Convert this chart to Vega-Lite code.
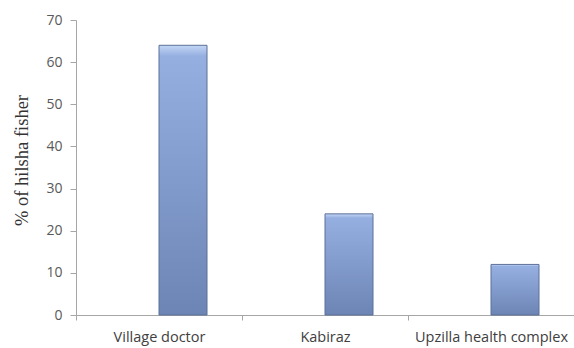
{
  "$schema": "https://vega.github.io/schema/vega-lite/v6.json",
  "width": 498,
  "height": 295,
  "autosize": {"type": "none"},
  "padding": {"left": 76, "top": 20, "right": 0, "bottom": 33},
  "background": "white",
  "config": {"view": {"stroke": null}},
  "data": {
    "values": [
      {"source": "Village doctor", "percent": 64},
      {"source": "Kabiraz", "percent": 24},
      {"source": "Upzilla health complex", "percent": 12}
    ]
  },
  "mark": {
    "type": "bar",
    "width": 48,
    "xOffset": 24,
    "stroke": "#5d7099",
    "strokeWidth": 1,
    "color": {
      "gradient": "linear",
      "x1": 0, "y1": 0, "x2": 0, "y2": 1,
      "stops": [
        {"offset": 0, "color": "#c3d6f5"},
        {"offset": 0.04, "color": "#95afe0"},
        {"offset": 0.5, "color": "#819bcc"},
        {"offset": 1, "color": "#6d85b4"}
      ]
    }
  },
  "encoding": {
    "x": {
      "field": "source",
      "type": "nominal",
      "sort": null,
      "scale": {"paddingInner": 0, "paddingOuter": 0},
      "axis": {
        "title": null,
        "labelAngle": 0,
        "labelFont": "Open Sans",
        "labelFontSize": 14.5,
        "labelColor": "#404040",
        "labelPadding": 10,
        "domainColor": "#a6a6a6",
        "tickColor": "#a6a6a6",
        "tickBand": "extent",
        "tickSize": 5,
        "grid": false
      }
    },
    "y": {
      "field": "percent",
      "type": "quantitative",
      "scale": {"domain": [0, 70]},
      "axis": {
        "title": "% of hilsha fisher",
        "titleFont": "Liberation Serif",
        "titleFontSize": 18.5,
        "titleFontWeight": "normal",
        "titleColor": "#333333",
        "titlePadding": 14,
        "titleY": 140,
        "values": [0, 10, 20, 30, 40, 50, 60, 70],
        "labelFont": "Open Sans",
        "labelFontSize": 14,
        "labelColor": "#595959",
        "labelPadding": 8,
        "domainColor": "#a6a6a6",
        "tickColor": "#a6a6a6",
        "tickSize": 6,
        "grid": false
      }
    }
  }
}
